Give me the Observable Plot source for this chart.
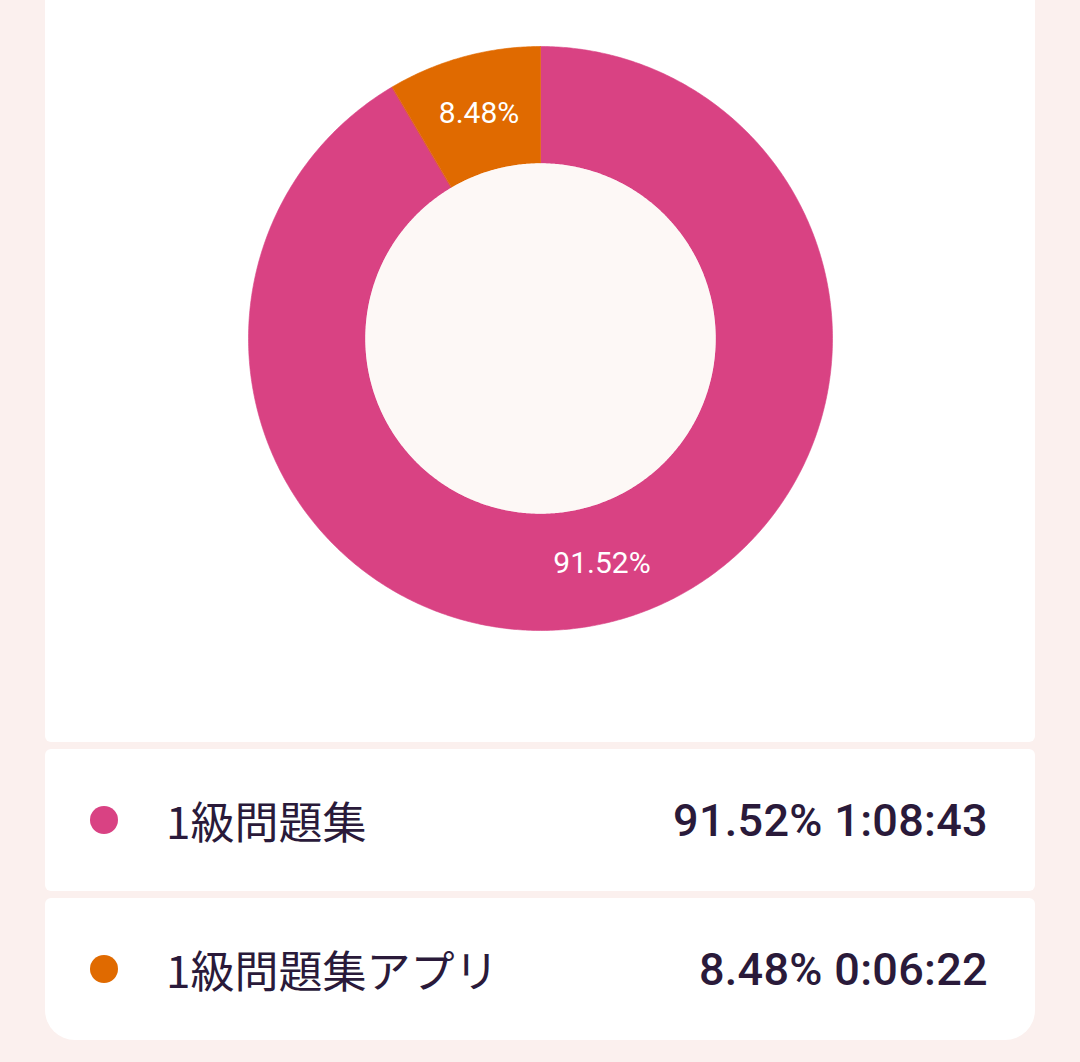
<!DOCTYPE html>
<html>
<head>
<meta charset="utf-8">
<script src="https://cdn.jsdelivr.net/npm/d3@7"></script>
<script src="https://cdn.jsdelivr.net/npm/@observablehq/plot@0.6"></script>
<style>
  html, body { margin: 0; padding: 0; }
  body { width: 1080px; height: 1062px; overflow: hidden; background: #fbf0ee; font-family: Roboto, sans-serif; position: relative; }
  #card { position: absolute; left: 45px; top: 0; width: 990px; }
  #chart { background: #ffffff; height: 742px; border-radius: 0 0 6px 6px; overflow: hidden; }
  #chart svg { display: block; }
  .row { position: absolute; left: 0; width: 990px; height: 142px; background: #ffffff; display: flex; align-items: center; }
  .dot { position: absolute; left: 45px; width: 28px; height: 28px; border-radius: 50%; top: 57px; }
  .label { position: absolute; left: 121px; font-family: "Noto Sans CJK JP", sans-serif; font-size: 44px; color: #2a1a3a; line-height: 1; }
  .value { position: absolute; right: 47px; font-family: Roboto, sans-serif; font-weight: 500; font-size: 45px; color: #2a1a3a; line-height: 1; letter-spacing: 0.3px; }
</style>
</head>
<body>
<div id="card">
  <div id="chart"></div>
</div>
<script>
// ---- data ----
const categories = ["1級問題集", "1級問題集アプリ"];
const shares = [91.52, 8.48];
const durations = ["1:08:43", "0:06:22"];
const colors = ["#d94283", "#e06a00"];
const holeColor = "#fdf8f6";

// ---- build donut geometry from the data (fractions of a full turn, clockwise from top) ----
const innerRatio = 0.6;
const total = d3.sum(shares);
let acc = 0;
const slices = categories.map((c, i) => {
  const a0 = acc / total * 2 * Math.PI;
  acc += shares[i];
  const a1 = acc / total * 2 * Math.PI;
  return {cat: c, share: shares[i], a0, a1};
});
const ringPts = [];
for (const s of slices) {
  const n = Math.max(8, Math.ceil((s.a1 - s.a0) / (Math.PI / 360)));
  for (let k = 0; k <= n; k++) {
    const a = s.a0 + (s.a1 - s.a0) * k / n;
    ringPts.push({cat: s.cat, x: Math.sin(a), y: Math.cos(a)});
  }
  for (let k = n; k >= 0; k--) {
    const a = s.a0 + (s.a1 - s.a0) * k / n;
    ringPts.push({cat: s.cat, x: innerRatio * Math.sin(a), y: innerRatio * Math.cos(a)});
  }
}
const holePts = d3.range(0, 721).map(k => {
  const a = k / 720 * 2 * Math.PI;
  return {x: innerRatio * Math.sin(a), y: innerRatio * Math.cos(a)};
});
const labelPts = slices.map(s => {
  const m = (s.a0 + s.a1) / 2, r = (1 + innerRatio) / 2;
  return {x: r * Math.sin(m), y: r * Math.cos(m), text: s.share.toFixed(2) + "%"};
});

const chart = Plot.plot({
  width: 990,
  height: 742,
  marginLeft: 203,
  marginRight: 203,
  marginTop: 46,
  marginBottom: 112,
  style: {background: "transparent", fontFamily: "Roboto, sans-serif"},
  x: {domain: [-1, 1], axis: null},
  y: {domain: [-1, 1], axis: null},
  color: {domain: categories, range: colors},
  marks: [
    Plot.line(ringPts, {x: "x", y: "y", z: "cat", fill: "cat", stroke: "cat", strokeWidth: 0.6, curve: "linear-closed"}),
    Plot.line(holePts, {x: "x", y: "y", fill: holeColor, stroke: "none", curve: "linear-closed"}),
    Plot.text(labelPts, {x: "x", y: "y", text: "text", fill: "#ffffff", fontSize: 30, fontFamily: "Roboto, sans-serif"})
  ]
});
document.getElementById("chart").appendChild(chart);

// ---- legend rows ----
const card = document.getElementById("card");
const rowTops = [749, 898];
categories.forEach((c, i) => {
  const row = document.createElement("div");
  row.className = "row";
  row.style.top = rowTops[i] + "px";
  row.style.borderRadius = i === categories.length - 1 ? "6px 6px 30px 30px" : "6px";
  const dot = document.createElement("div");
  dot.className = "dot";
  dot.style.background = colors[i];
  const label = document.createElement("div");
  label.className = "label";
  label.textContent = c;
  const value = document.createElement("div");
  value.className = "value";
  value.textContent = shares[i].toFixed(2) + "% " + durations[i];
  row.append(dot, label, value);
  card.appendChild(row);
});
</script>
</body>
</html>
